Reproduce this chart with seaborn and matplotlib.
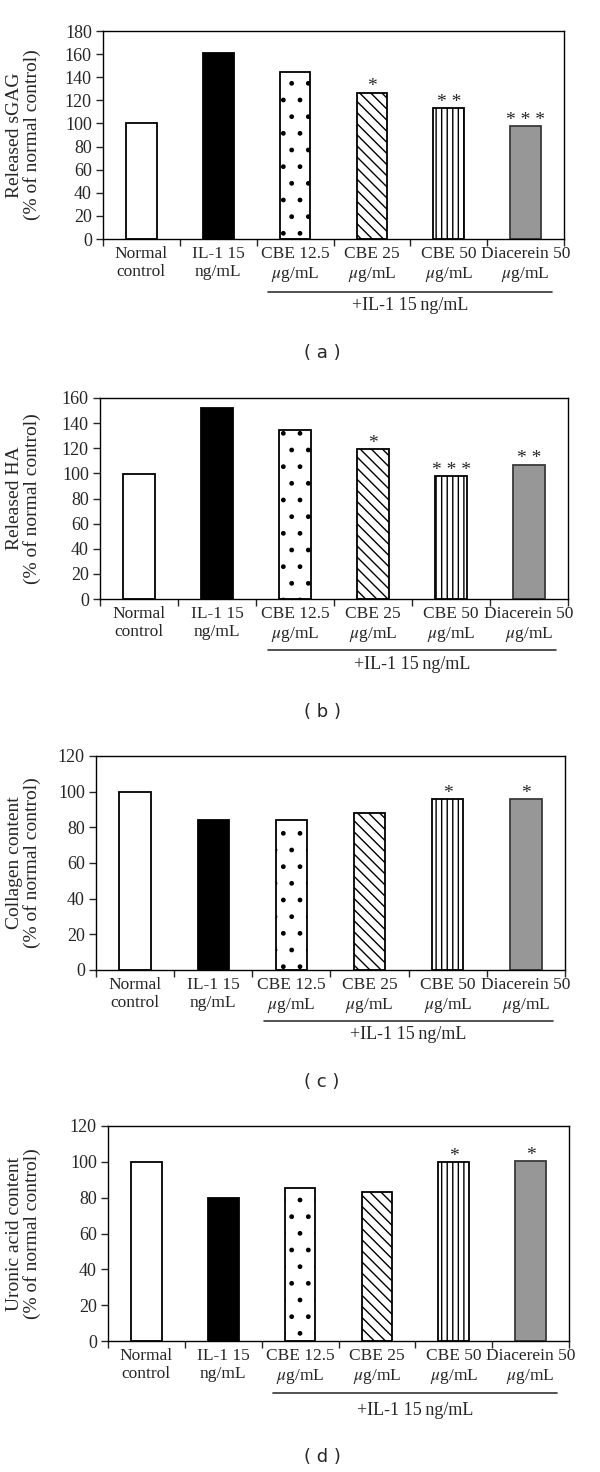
import numpy as np
import pandas as pd
import matplotlib
matplotlib.use("Agg")
import matplotlib.pyplot as plt
import matplotlib.transforms as mtransforms
from matplotlib.ticker import MultipleLocator, FixedLocator
import seaborn as sns

# groups on the x axis (same for every panel)
groups = ["Normal\ncontrol", "IL-1 15\nng/mL", "CBE 12.5\n$\\mu$g/mL",
          "CBE 25\n$\\mu$g/mL", "CBE 50\n$\\mu$g/mL", "Diacerein 50\n$\\mu$g/mL"]

# values (% of normal control)
sgag = [100.0, 160.7, 144.8, 126.6, 113.0, 97.8]
ha = [99.8, 151.8, 134.5, 119.5, 97.7, 107.0]
collagen = [100.0, 84.2, 84.2, 88.3, 95.7, 95.7]
uronic = [99.8, 79.8, 85.4, 83.0, 99.9, 100.5]

# significance marks
stars_a = ["", "", "", "*", "* *", "* * *"]
stars_b = ["", "", "", "*", "* * *", "* *"]
stars_c = ["", "", "", "", "*", "*"]
stars_d = ["", "", "", "", "*", "*"]

ylabels = ["Released sGAG\n(% of normal control)",
           "Released HA\n(% of normal control)",
           "Collagen content\n(% of normal control)",
           "Uronic acid content\n(% of normal control)"]
ymax = [180, 160, 120, 120]
panel_tags = ["( a )", "( b )", "( c )", "( d )"]
bracket_text = "+IL-1 15\u2009ng/mL"

fills = ["white", "black", "white", "white", "white", "#979797"]
edges = ["black", "black", "black", "black", "black", "#3a3a3a"]
hatches = [None, None, ".", "\\\\\\", "|||", None]

sns.set_style("white")
plt.rcParams["font.family"] = ["Liberation Serif", "DejaVu Serif"]
plt.rcParams["mathtext.fontset"] = "stix"
plt.rcParams["hatch.linewidth"] = 1.0

fig = plt.figure(figsize=(6, 14.72), dpi=100)
H = 1472.0
W = 600.0

# axes boxes in pixels: left, right, top, bottom
boxes = [(103, 564, 31, 239), (100, 568, 398, 599),
         (96, 565, 756, 970), (108, 569, 1126, 1341)]
bracket_y = [(-0.255, -0.318), (-0.254, -0.328), (-0.238, -0.30), (-0.242, -0.321)]
tag_y = [353, 712, 1082, 1457]
ylabel_x = 41

all_values = [sgag, ha, collagen, uronic]
all_stars = [stars_a, stars_b, stars_c, stars_d]

for i in range(4):
    l, r, t, b = boxes[i]
    ax = fig.add_axes([l / W, 1 - b / H, (r - l) / W, (b - t) / H])
    df = pd.DataFrame({"group": groups, "value": all_values[i]})
    sns.barplot(data=df, x="group", y="value", hue="group", palette=fills,
                width=0.4, legend=False, ax=ax, saturation=1)
    for k, p in enumerate(ax.patches):
        p.set_edgecolor(edges[k])
        p.set_linewidth(1.3)
        if hatches[k]:
            p.set_hatch(hatches[k])

    ax.set_xlim(-0.5, 5.5)
    ax.set_ylim(0, ymax[i])
    ax.yaxis.set_major_locator(MultipleLocator(20))
    ax.xaxis.set_minor_locator(FixedLocator(np.arange(-0.5, 6, 1)))
    ax.tick_params(axis="x", which="major", length=0, labelsize=12.5, pad=5)
    ax.tick_params(axis="x", which="minor", length=5, width=1, direction="out", bottom=True)
    ax.tick_params(axis="y", length=5, width=1, direction="out", left=True, labelsize=13, pad=3)
    ax.set_xlabel("")
    ax.set_ylabel(ylabels[i], fontsize=14, linespacing=1.0)
    ax.yaxis.set_label_coords((ylabel_x - l) / (r - l), 0.5)
    for s in ax.spines.values():
        s.set_visible(True)
        s.set_color("black")
        s.set_linewidth(1.0)

    # significance marks
    for k, st in enumerate(all_stars[i]):
        if st:
            ax.annotate(st, (k, all_values[i][k]), xytext=(0, -2), textcoords="offset points",
                        ha="center", va="bottom", fontsize=14)

    # bracket line for the IL-1 treated groups
    trans = mtransforms.blended_transform_factory(ax.transData, ax.transAxes)
    ax.plot([1.65, 5.35], [bracket_y[i][0]] * 2, color="#333333", lw=1.2,
            transform=trans, clip_on=False)
    ax.text(3.5, bracket_y[i][1], bracket_text, transform=trans, ha="center",
            va="center", fontsize=13)

    fig.text(322 / W, 1 - tag_y[i] / H, panel_tags[i], ha="center", va="center",
             fontsize=13, family="DejaVu Sans")

fig.savefig("out.png", dpi=100, facecolor="white")
